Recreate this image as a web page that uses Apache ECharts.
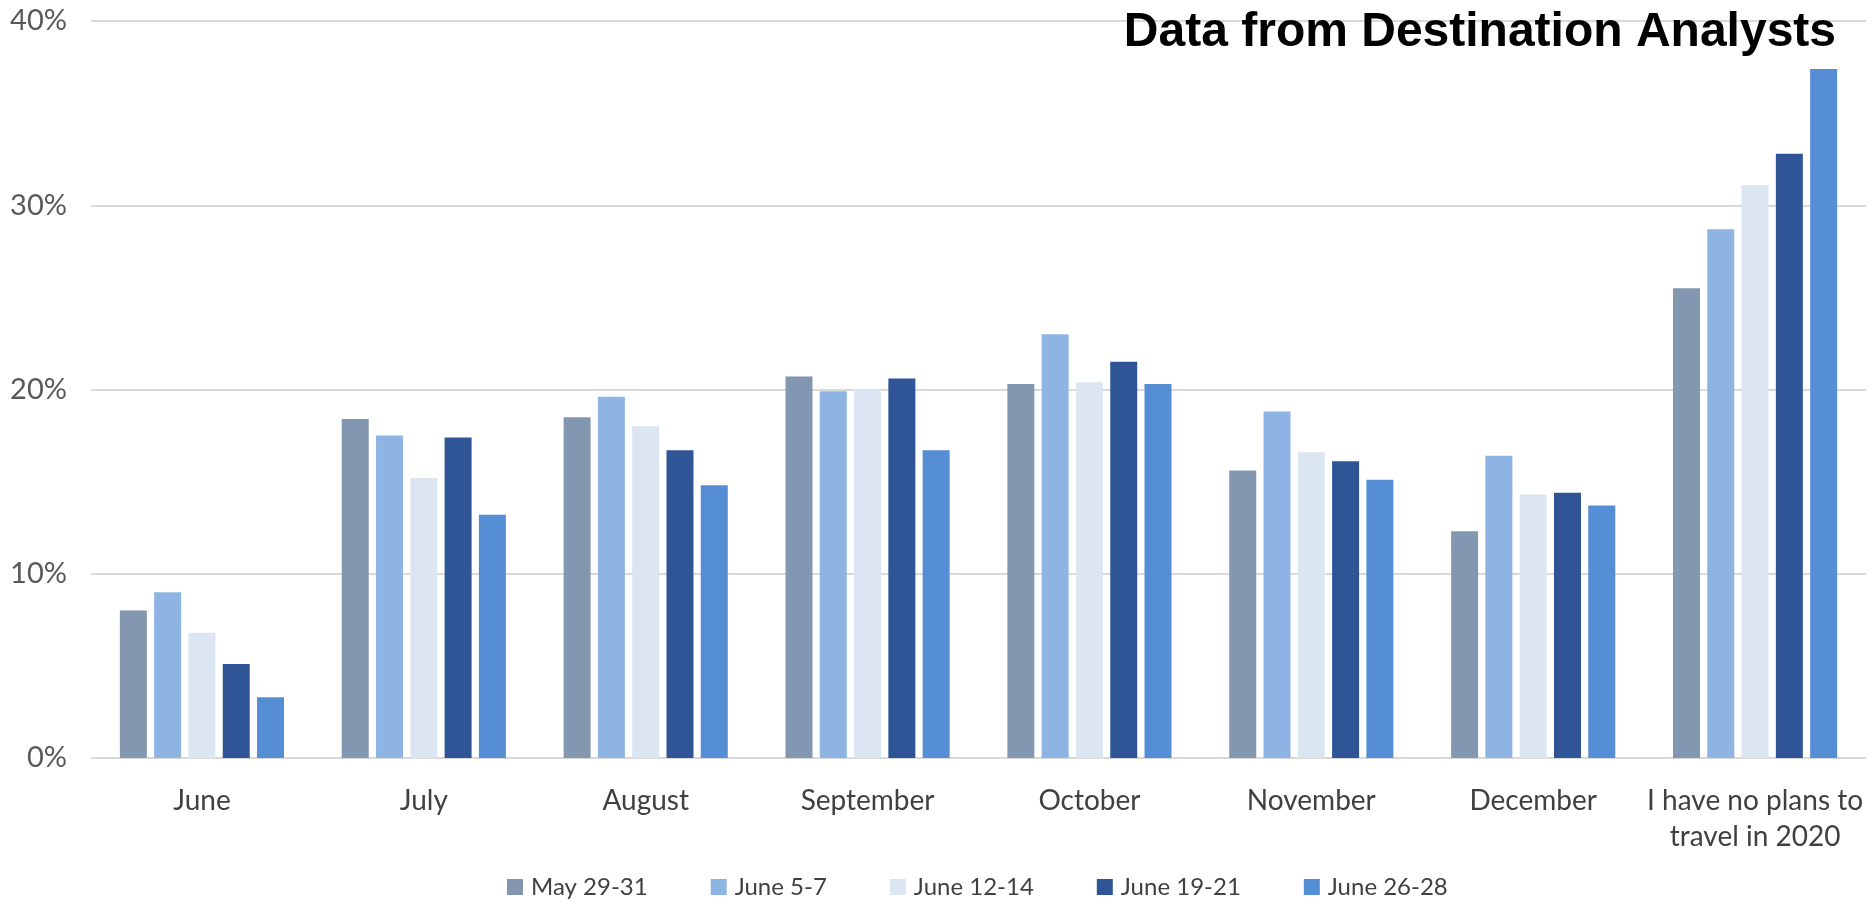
<!DOCTYPE html>
<html>
<head>
<meta charset="utf-8">
<script src="https://cdn.jsdelivr.net/npm/echarts@6/dist/echarts.min.js"></script>
<style>
html,body{margin:0;padding:0;background:#fff;}
#chart{width:1875px;height:915px;}
</style>
</head>
<body>
<div id="chart"></div>
<script>
const categories = ['June', 'July', 'August', 'September', 'October', 'November', 'December', 'I have no plans to\ntravel in 2020'];
const seriesNames = ['May 29-31', 'June 5-7', 'June 12-14', 'June 19-21', 'June 26-28'];
const may29_31 = [8.0, 18.4, 18.5, 20.7, 20.3, 15.6, 12.3, 25.5];
const june5_7 = [9.0, 17.5, 19.6, 19.9, 23.0, 18.8, 16.4, 28.7];
const june12_14 = [6.8, 15.2, 18.0, 20.0, 20.4, 16.6, 14.3, 31.1];
const june19_21 = [5.1, 17.4, 16.7, 20.6, 21.5, 16.1, 14.4, 32.8];
const june26_28 = [3.3, 13.2, 14.8, 16.7, 20.3, 15.1, 13.7, 37.4];
const yTicks = [0, 10, 20, 30, 40];
const colors = ['#8497b0', '#8eb4e3', '#dce6f2', '#2f5597', '#558ed5'];

const allData = [may29_31, june5_7, june12_14, june19_21, june26_28];
const chart = echarts.init(document.getElementById('chart'));
const labelFont = 'Lato, "Open Sans", sans-serif';

chart.setOption({
  animation: false,
  backgroundColor: '#ffffff',
  title: {
    text: 'Data from Destination Analysts',
    right: 34,
    top: 4,
    textStyle: {
      fontFamily: '"Liberation Sans", Arial, sans-serif',
      fontWeight: 'bold',
      fontSize: 48,
      color: '#000000'
    }
  },
  legend: {
    left: 502,
    top: 870,
    itemWidth: 16,
    itemHeight: 16,
    itemGap: 63,
    icon: 'rect',
    textStyle: { fontFamily: labelFont, fontSize: 24, color: '#404040', padding: [0, 0, 0, 3] },
    data: seriesNames
  },
  grid: { left: 91, right: 9, top: 21, bottom: 157, containLabel: false },
  xAxis: {
    type: 'category',
    data: categories,
    axisLine: { show: false },
    axisTick: { show: false },
    axisLabel: {
      interval: 0,
      margin: 25,
      fontFamily: labelFont,
      fontSize: 28,
      lineHeight: 36,
      color: '#404040'
    }
  },
  yAxis: {
    type: 'value',
    min: yTicks[0],
    max: yTicks[yTicks.length - 1],
    interval: 10,
    axisLine: { show: false },
    axisTick: { show: false },
    splitLine: { lineStyle: { color: '#d9d9d9', width: 2 } },
    axisLabel: {
      margin: 24,
      fontFamily: labelFont,
      fontSize: 29,
      color: '#595959',
      formatter: '{value}%'
    }
  },
  series: seriesNames.map((name, i) => ({
    name: name,
    type: 'bar',
    data: allData[i],
    barWidth: 27,
    barGap: '27%',
    itemStyle: { color: colors[i] }
  }))
});
</script>
</body>
</html>
